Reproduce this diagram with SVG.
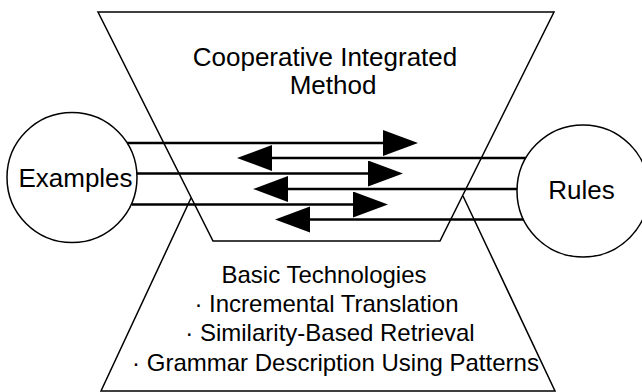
<svg xmlns="http://www.w3.org/2000/svg" width="642" height="392" viewBox="0 0 642 392">
  <style>
    .edge { fill: none; stroke: #000; stroke-width: 1.5; stroke-linejoin: miter; }
    .circle { fill: #fff; stroke: #000; stroke-width: 1.5; }
    .shaft { fill: none; stroke: #000; stroke-width: 2.6; }
    .label { font-family: "Liberation Sans", Arial, Helvetica, sans-serif; fill: #000; text-anchor: middle; }
    .big { font-size: 26px; }
    .small { font-size: 24px; }
  </style>
  <defs>
    <marker id="head" markerUnits="userSpaceOnUse" markerWidth="36" markerHeight="27" refX="0" refY="13" orient="auto">
      <path d="M0,0 L35,13 L0,26 Z" fill="#000"/>
    </marker>
  </defs>
  <rect width="642" height="392" fill="#fff"/>

  <g id="basic-technologies">
    <polyline class="edge" points="191,198 101,391 555,391 463,196"/>
    <text class="label small" x="324" y="283">Basic Technologies</text>
    <text class="label small" x="326.5" y="312">· Incremental Translation</text>
    <text class="label small" x="330" y="341">· Similarity-Based Retrieval</text>
    <text class="label small" x="335.5" y="371">· Grammar Description Using Patterns</text>
  </g>

  <g id="cooperative-integrated-method">
    <polygon class="edge" points="98,12 554,12 440,241 213,241"/>
    <text class="label big" x="325" y="66">Cooperative Integrated</text>
    <text class="label big" x="333" y="94">Method</text>
  </g>

  <g id="examples">
    <circle class="circle" cx="72" cy="177.5" r="65"/>
    <text class="label big" x="75.5" y="187">Examples</text>
  </g>

  <g id="rules">
    <circle class="circle" cx="583" cy="191" r="66"/>
    <text class="label big" x="581.5" y="199">Rules</text>
  </g>

  <g id="connectors">
    <line class="shaft" x1="127" y1="143" x2="383" y2="143" marker-end="url(#head)"/>
    <line class="shaft" x1="526" y1="158" x2="272" y2="158" marker-end="url(#head)"/>
    <line class="shaft" x1="137" y1="173.5" x2="368" y2="173.5" marker-end="url(#head)"/>
    <line class="shaft" x1="517" y1="189" x2="288" y2="189" marker-end="url(#head)"/>
    <line class="shaft" x1="132" y1="204.5" x2="353" y2="204.5" marker-end="url(#head)"/>
    <line class="shaft" x1="523" y1="219.5" x2="310" y2="219.5" marker-end="url(#head)"/>
  </g>
</svg>
